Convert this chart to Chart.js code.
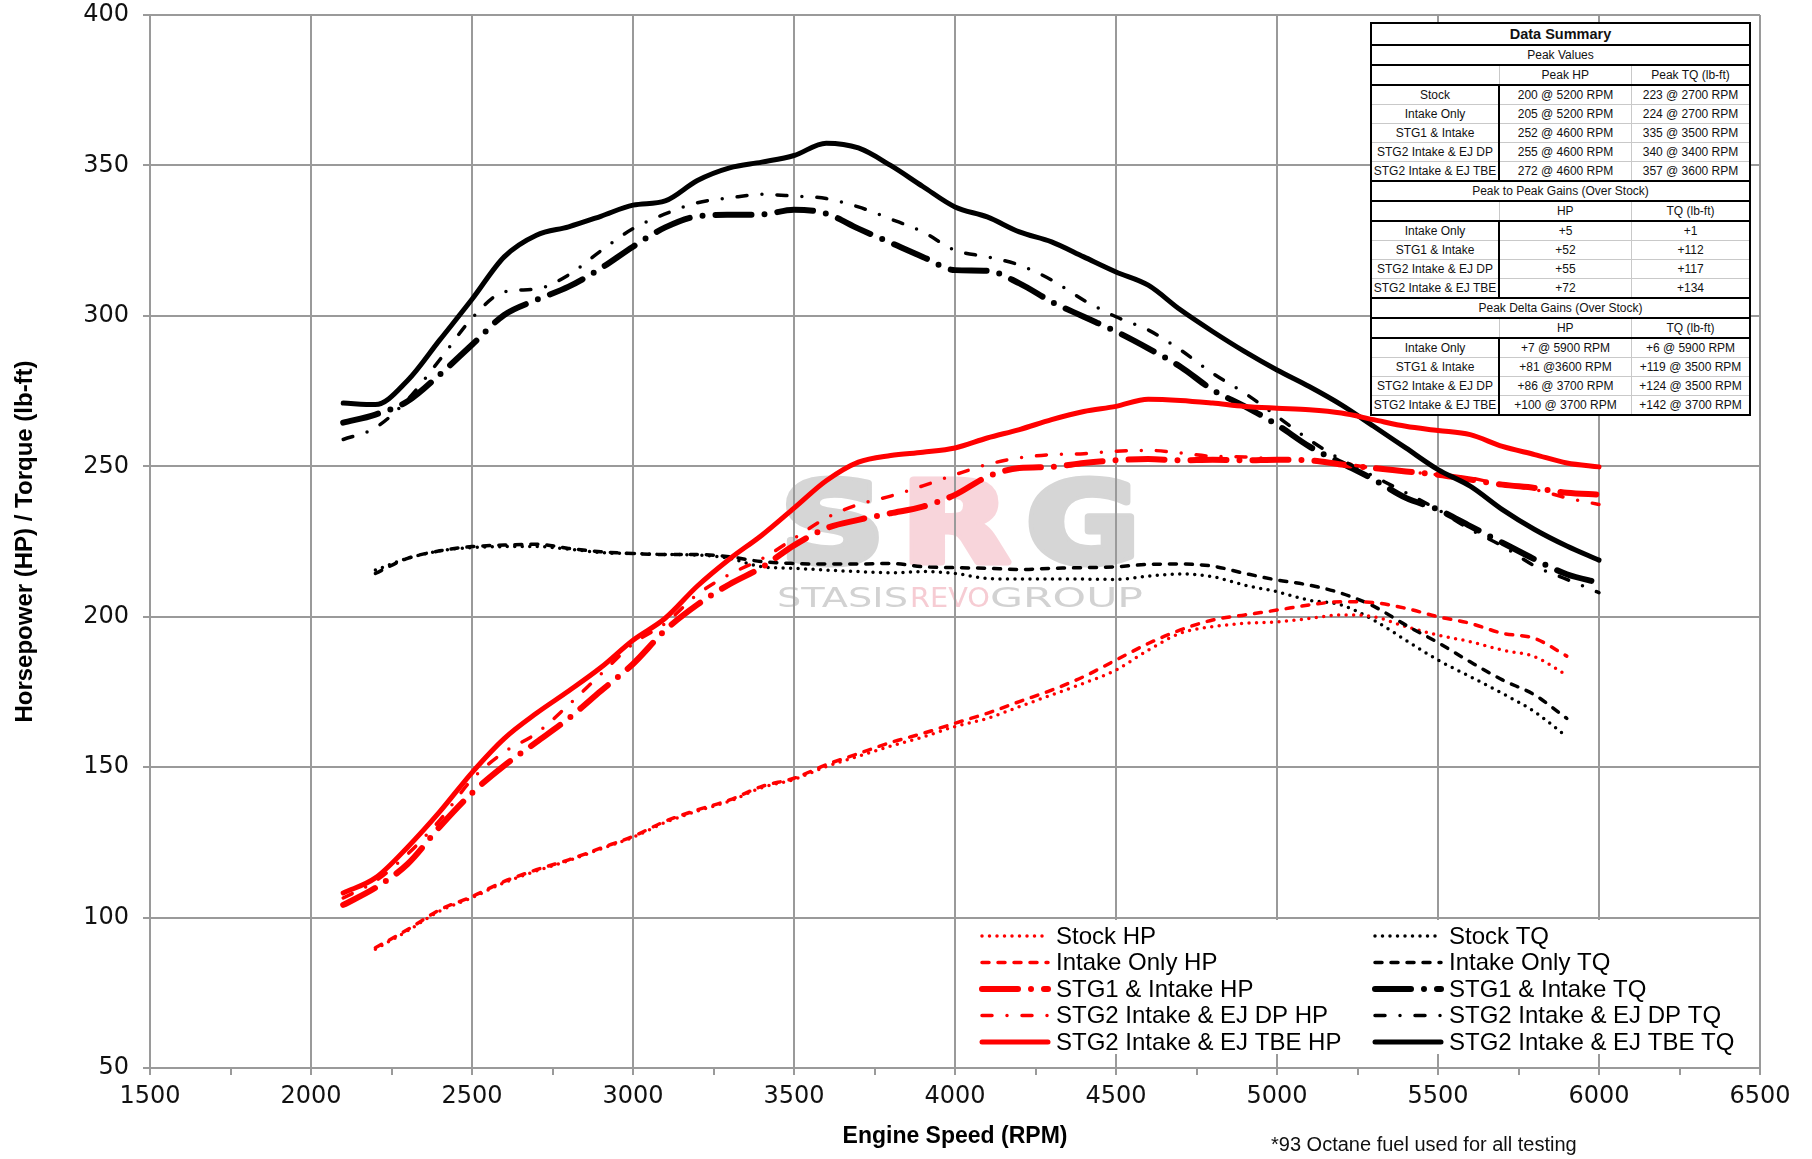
<!DOCTYPE html>
<html>
<head>
<meta charset="utf-8">
<title>Dyno comparison</title>
<script src="https://cdn.jsdelivr.net/npm/chart.js@4.4.1/dist/chart.umd.min.js"></script>
<style>
  body { margin: 0; background: #fff; }
  #wrap { position: relative; width: 1812px; height: 1159px; }
  #summary {
    position: absolute; left: 1370px; top: 22px; width: 381px;
    border-collapse: collapse; background: #fff; border: 2px solid #000;
    font: 12px "Liberation Sans", Arial, sans-serif; color: #111; text-align: center;
  }
  #summary td { height: 18px; padding: 0; border: 1px solid #c9c9c9; white-space: nowrap; }
  #summary tr.title td { font-weight: bold; font-size: 14.5px; height: 20px; border: 2px solid #000; }
  #summary tr.sect td { border-top: 2px solid #000; border-bottom: 2px solid #000; }
  #summary tr.head td { border-bottom: 2px solid #000; }
  #summary tr.row td:first-child { border-right: 2px solid #000; width: 126px; }
  #summary tr.row td:nth-child(2) { width: 131px; }
</style>
</head>
<body>
<div id="wrap">
  <canvas id="chart" width="1812" height="1159"></canvas>
  <table id="summary"></table>
</div>
<script>
// engine speed points
const rpmLong = [2100, 2200, 2300, 2400, 2500, 2600, 2700, 2800, 2900, 3000,
  3100, 3200, 3300, 3400, 3500, 3600, 3700, 3800, 3900, 4000,
  4100, 4200, 4300, 4400, 4500, 4600, 4700, 4800, 4900, 5000,
  5100, 5200, 5300, 5400, 5500, 5600, 5700, 5800, 5900, 6000];
const rpmShort = [2200, 2300, 2400, 2500, 2600, 2700, 2800, 2900, 3000, 3100,
  3200, 3300, 3400, 3500, 3600, 3700, 3800, 3900, 4000, 4100,
  4200, 4300, 4400, 4500, 4600, 4700, 4800, 4900, 5000, 5100,
  5200, 5300, 5400, 5500, 5600, 5700, 5800, 5900];

// horsepower
const stockHP = [89.5, 95.6, 102.2, 106.6, 111.6, 115.5, 118.9, 122.8, 126.7, 131.6,
  135.4, 138.7, 143.2, 145.9, 150.2, 153.6, 157, 160, 163.5, 166.2,
  170.1, 174, 177.9, 182.3, 188.9, 194.5, 196.7, 197.8, 198.3, 199.4,
  200.6, 200, 196.7, 193.9, 191.7, 188.9, 186.7, 180.6];
const intakeHP = [90, 96, 102.6, 107, 112, 115.9, 119.2, 123.1, 127, 132,
  135.8, 139.1, 143.6, 146.3, 150.8, 154.5, 158.2, 161.2, 164.6, 167.9,
  171.8, 175.6, 180.1, 185.6, 191.1, 195.6, 198.9, 200.6, 202.2, 203.9,
  205, 204.7, 202.8, 200, 197.8, 194.5, 192.8, 186.9];
const stg1HP = [104.2, 109.9, 117.8, 130.2, 141.4, 150.5, 158.3, 166.2, 175.3, 184.3,
  195.5, 204, 210.8, 216.4, 223.7, 229.4, 232.2, 234.4, 236.6, 240.5,
  246.5, 249.4, 249.8, 251.1, 252, 252.4, 252, 252.2, 252, 252.2,
  252, 250.6, 249.4, 248.3, 247.2, 245.6, 243.9, 242.8, 241.2, 240.6];
const dpHP = [106.5, 112.1, 121.1, 132.4, 145.9, 155, 161.2, 170.7, 180.9, 191,
  197.8, 207.4, 214.1, 219.2, 226, 232.8, 237.3, 240.1, 243.5, 247.2,
  250.6, 252.8, 253.9, 254.2, 255, 255.3, 254.4, 253.3, 253.1, 252.4,
  251.7, 250.9, 249.4, 248.3, 247.2, 246.1, 243.9, 242.3, 239.5, 237.3];
const tbeHP = [108.2, 113.2, 123.4, 135.2, 148.2, 159.5, 167.9, 175.3, 183.1, 192.2,
  199.5, 210.2, 219.2, 227.1, 236.1, 245.2, 251.4, 253.6, 254.7, 256.1,
  259.4, 262.2, 265.5, 268.2, 269.9, 272.3, 271.9, 271, 269.9, 269.3,
  268.8, 267.7, 265.5, 263.3, 261.9, 260.5, 256.6, 253.9, 251.1, 249.8];

// torque
const stockTQ = [215.5, 219.4, 221.9, 223, 223.3, 223.3, 222.5, 221.3, 221, 220.7,
  220.5, 219.4, 216.6, 216.1, 215.5, 215, 214.6, 215, 214.4, 212.7,
  212.5, 212.5, 212.5, 212.4, 213.5, 214.2, 213.3, 210.5, 208.3, 205.5,
  203.9, 198.9, 192.2, 185.6, 180.1, 174.5, 168.4, 160.1];
const intakeTQ = [214.4, 219.4, 221.9, 223.3, 223.8, 224.1, 222.7, 221.6, 221, 220.7,
  220.7, 219.9, 218.3, 217.7, 217.5, 217.5, 217.7, 216.6, 216.3, 216.1,
  215.7, 216.1, 216.3, 216.6, 217.4, 217.5, 216.8, 214.4, 212.2, 210.5,
  207.8, 203.5, 197.2, 191.4, 185, 179, 174, 166.2];
const stg1TQ = [264.5, 267.2, 271.6, 280.5, 290.4, 300.3, 305.3, 309.7, 315.8, 323,
  329.4, 333.1, 333.6, 333.7, 335.3, 334, 329, 324.3, 319.6, 315.2,
  315, 310.8, 304.7, 299.7, 294.8, 289.2, 283.1, 275.4, 269.9, 263.8,
  256.6, 251.1, 245.6, 239.5, 235.6, 230.1, 224.6, 219.1, 214.1, 211.3];
const dpTQ = [258.9, 262.8, 272.2, 285.4, 299.2, 308, 308.9, 313.6, 321.6, 329,
  333.9, 337.6, 339.2, 340.4, 339.8, 339, 336.2, 332.2, 327.9, 321.8,
  319.6, 316.9, 311.9, 305.2, 299.7, 295.3, 288.7, 280.9, 274.3, 266.6,
  258.8, 252.2, 246.7, 241.2, 235.6, 229, 223.5, 216.9, 212.4, 208];
const tbeTQ = [271, 270.5, 278.5, 292, 305.5, 319.6, 326.8, 329.6, 333.1, 336.8,
  338.2, 345, 349.2, 351.1, 353.3, 357.4, 355.8, 350, 343, 336.2,
  332.9, 327.9, 324.6, 319.6, 314.6, 310.2, 302, 294.8, 288.1, 282,
  276.5, 270.4, 263.3, 256.1, 248.9, 243.4, 235.6, 229, 223.5, 218.8];

// axis ticks
const xTickValues = [1500, 1750, 2000, 2250, 2500, 2750, 3000, 3250, 3500, 3750, 4000,
  4250, 4500, 4750, 5000, 5250, 5500, 5750, 6000, 6250, 6500];
const xTickLabels = [1500, 2000, 2500, 3000, 3500, 4000, 4500, 5000, 5500, 6000, 6500];
const yTickLabels = [50, 100, 150, 200, 250, 300, 350, 400];

// summary table
const peakHeader = ["", "Peak HP", "Peak TQ (lb-ft)"];
const peakRows = [
  ["Stock", "200 @ 5200 RPM", "223 @ 2700 RPM"],
  ["Intake Only", "205 @ 5200 RPM", "224 @ 2700 RPM"],
  ["STG1 & Intake", "252 @ 4600 RPM", "335 @ 3500 RPM"],
  ["STG2 Intake & EJ DP", "255 @ 4600 RPM", "340 @ 3400 RPM"],
  ["STG2 Intake & EJ TBE", "272 @ 4600 RPM", "357 @ 3600 RPM"]
];
const gainHeader = ["", "HP", "TQ (lb-ft)"];
const gainRows = [
  ["Intake Only", "+5", "+1"],
  ["STG1 & Intake", "+52", "+112"],
  ["STG2 Intake & EJ DP", "+55", "+117"],
  ["STG2 Intake & EJ TBE", "+72", "+134"]
];
const deltaRows = [
  ["Intake Only", "+7 @ 5900 RPM", "+6 @ 5900 RPM"],
  ["STG1 & Intake", "+81 @3600 RPM", "+119 @ 3500 RPM"],
  ["STG2 Intake & EJ DP", "+86 @ 3700 RPM", "+124 @ 3500 RPM"],
  ["STG2 Intake & EJ TBE", "+100 @ 3700 RPM", "+142 @ 3700 RPM"]
];

function addRow(cls, cells) {
  const tr = document.createElement("tr");
  tr.className = cls;
  cells.forEach(text => {
    const td = document.createElement("td");
    td.textContent = text;
    tr.appendChild(td);
  });
  summary.appendChild(tr);
}
function addBanner(cls, text) {
  const tr = document.createElement("tr");
  tr.className = cls;
  const td = document.createElement("td");
  td.colSpan = 3;
  td.textContent = text;
  tr.appendChild(td);
  summary.appendChild(tr);
}

addBanner("title", "Data Summary");
addBanner("sect", "Peak Values");
addRow("head", peakHeader);
peakRows.forEach(r => addRow("row", r));
addBanner("sect", "Peak to Peak Gains (Over Stock)");
addRow("head", gainHeader);
gainRows.forEach(r => addRow("row", r));
addBanner("sect", "Peak Delta Gains (Over Stock)");
addRow("head", gainHeader);
deltaRows.forEach(r => addRow("row", r));

const RED = "#ff0000";
const BLACK = "#000000";
const GRID = "#9a9a9a";

const pts = (xs, ys) => xs.map((x, i) => ({ x, y: ys[i] }));

const stockStyle = { borderWidth: 3.5, borderDash: [0, 7.5], borderCapStyle: "round" };
const intakeStyle = { borderWidth: 3.5, borderDash: [7, 9], borderCapStyle: "round" };
const stg1Style = { borderWidth: 6, borderDash: [36, 13, 0, 13], borderCapStyle: "round" };
const dpStyle = { borderWidth: 3.5, borderDash: [10, 15, 0, 15], borderCapStyle: "round" };
const tbeStyle = { borderWidth: 5, borderDash: [], borderCapStyle: "round" };

function series(label, xs, ys, color, style, col, row) {
  return Object.assign({
    label, data: pts(xs, ys), borderColor: color, backgroundColor: color,
    pointRadius: 0, fill: false, cubicInterpolationMode: "monotone",
    borderJoinStyle: "round", legendCol: col, legendRow: row
  }, style);
}

const datasets = [
  series("STG2 Intake & EJ TBE HP", rpmLong, tbeHP, RED, tbeStyle, 0, 4),
  series("STG2 Intake & EJ TBE TQ", rpmLong, tbeTQ, BLACK, tbeStyle, 1, 4),
  series("STG2 Intake & EJ DP HP", rpmLong, dpHP, RED, dpStyle, 0, 3),
  series("STG2 Intake & EJ DP TQ", rpmLong, dpTQ, BLACK, dpStyle, 1, 3),
  series("STG1 & Intake HP", rpmLong, stg1HP, RED, stg1Style, 0, 2),
  series("STG1 & Intake TQ", rpmLong, stg1TQ, BLACK, stg1Style, 1, 2),
  series("Intake Only HP", rpmShort, intakeHP, RED, intakeStyle, 0, 1),
  series("Intake Only TQ", rpmShort, intakeTQ, BLACK, intakeStyle, 1, 1),
  series("Stock HP", rpmShort, stockHP, RED, stockStyle, 0, 0),
  series("Stock TQ", rpmShort, stockTQ, BLACK, stockStyle, 1, 0)
];

// big SRG logo behind the grid
const watermark = {
  id: "watermark",
  beforeDraw(chart) {
    const ctx = chart.ctx;
    ctx.save();
    ctx.fillStyle = "#fff";
    ctx.fillRect(0, 0, chart.width, chart.height);
    ctx.textBaseline = "alphabetic";
    ctx.lineJoin = "round";
    const big = [["S", 780, 885, "#d6d6d6"], ["R", 901, 1010, "#f8d5db"], ["G", 1026, 1140, "#d6d6d6"]];
    ctx.font = 'bold 112px "DejaVu Sans"';
    big.forEach(([t, x0, x1, c]) => {
      const w = ctx.measureText(t).width;
      ctx.save();
      ctx.translate(x0, 562);
      ctx.scale((x1 - x0) / w, 1);
      ctx.fillStyle = c;
      ctx.strokeStyle = c;
      ctx.lineWidth = 7;
      ctx.strokeText(t, 0, 0);
      ctx.fillText(t, 0, 0);
      ctx.restore();
    });
    const small = [["STASIS", 777, 908, "#d2d2d2"], ["REVO", 910, 990, "#f6ccd3"], ["GROUP", 990, 1143, "#d2d2d2"]];
    ctx.font = '26px "DejaVu Sans"';
    small.forEach(([t, x0, x1, c]) => {
      const w = ctx.measureText(t).width;
      ctx.save();
      ctx.translate(x0, 607);
      ctx.scale((x1 - x0) / w, 1);
      ctx.fillStyle = c;
      ctx.fillText(t, 0, 0);
      ctx.restore();
    });
    ctx.restore();
  }
};

// two column legend in the lower right of the plot
const lineLegend = {
  id: "lineLegend",
  afterDatasetsDraw(chart) {
    const ctx = chart.ctx;
    ctx.save();
    ctx.fillStyle = "#fff";
    ctx.fillRect(975, 920, 781, 134);
    chart.data.datasets.forEach(ds => {
      const x0 = ds.legendCol === 0 ? 980 : 1373;
      const y = 936 + ds.legendRow * 26.5;
      ctx.strokeStyle = ds.borderColor;
      ctx.lineWidth = ds.borderWidth;
      ctx.lineCap = ds.borderCapStyle;
      ctx.setLineDash(ds.borderDash);
      ctx.beginPath();
      ctx.moveTo(x0 + 2, y);
      ctx.lineTo(x0 + 68, y);
      ctx.stroke();
      ctx.setLineDash([]);
      ctx.fillStyle = "#000";
      ctx.font = '24px "Liberation Sans"';
      ctx.textBaseline = "middle";
      ctx.fillText(ds.label, x0 + 76, y + 1);
    });
    ctx.restore();
  },
  afterDraw(chart) {
    const ctx = chart.ctx;
    ctx.save();
    ctx.fillStyle = "#111";
    ctx.font = '20px "Liberation Sans"';
    ctx.textBaseline = "middle";
    ctx.fillText("*93 Octane fuel used for all testing", 1271, 1145);
    ctx.restore();
  }
};

new Chart(document.getElementById("chart"), {
  type: "line",
  data: { datasets },
  plugins: [watermark, lineLegend],
  options: {
    responsive: false,
    animation: false,
    layout: { padding: { left: 0, right: 52, top: 15, bottom: 0 } },
    plugins: { legend: { display: false }, tooltip: { enabled: false } },
    scales: {
      x: {
        type: "linear", min: 1500, max: 6500,
        afterBuildTicks: s => { s.ticks = xTickValues.map(v => ({ value: v })); },
        afterFit: s => { s.height = 91; },
        ticks: {
          autoSkip: false, maxRotation: 0, padding: 7, color: "#111",
          font: { family: "DejaVu Sans", size: 24 },
          callback: v => xTickLabels.includes(v) ? String(v) : ""
        },
        grid: {
          color: c => c.tick && xTickLabels.includes(c.tick.value) ? GRID : "rgba(0,0,0,0)",
          tickColor: GRID, lineWidth: 2, tickLength: 7
        },
        border: { color: GRID, width: 2 },
        title: {
          display: true, text: "Engine Speed (RPM)", color: "#000",
          font: { family: "Liberation Sans", size: 23, weight: "bold" },
          padding: { top: 0, bottom: 9 }
        }
      },
      y: {
        min: 50, max: 400,
        afterBuildTicks: s => { s.ticks = yTickLabels.map(v => ({ value: v })); },
        afterFit: s => { s.width = 150; s.paddingTop = 0; s.paddingBottom = 0; },
        ticks: { padding: 14, color: "#111", font: { family: "DejaVu Sans", size: 24 } },
        grid: { color: GRID, tickColor: GRID, lineWidth: 2, tickLength: 7 },
        border: { color: GRID, width: 2 },
        title: {
          display: true, text: "Horsepower (HP) / Torque (lb-ft)", color: "#000",
          font: { family: "Liberation Sans", size: 24, weight: "bold" },
          padding: { top: 11, bottom: 0 }
        }
      }
    }
  }
});
</script>
</body>
</html>
